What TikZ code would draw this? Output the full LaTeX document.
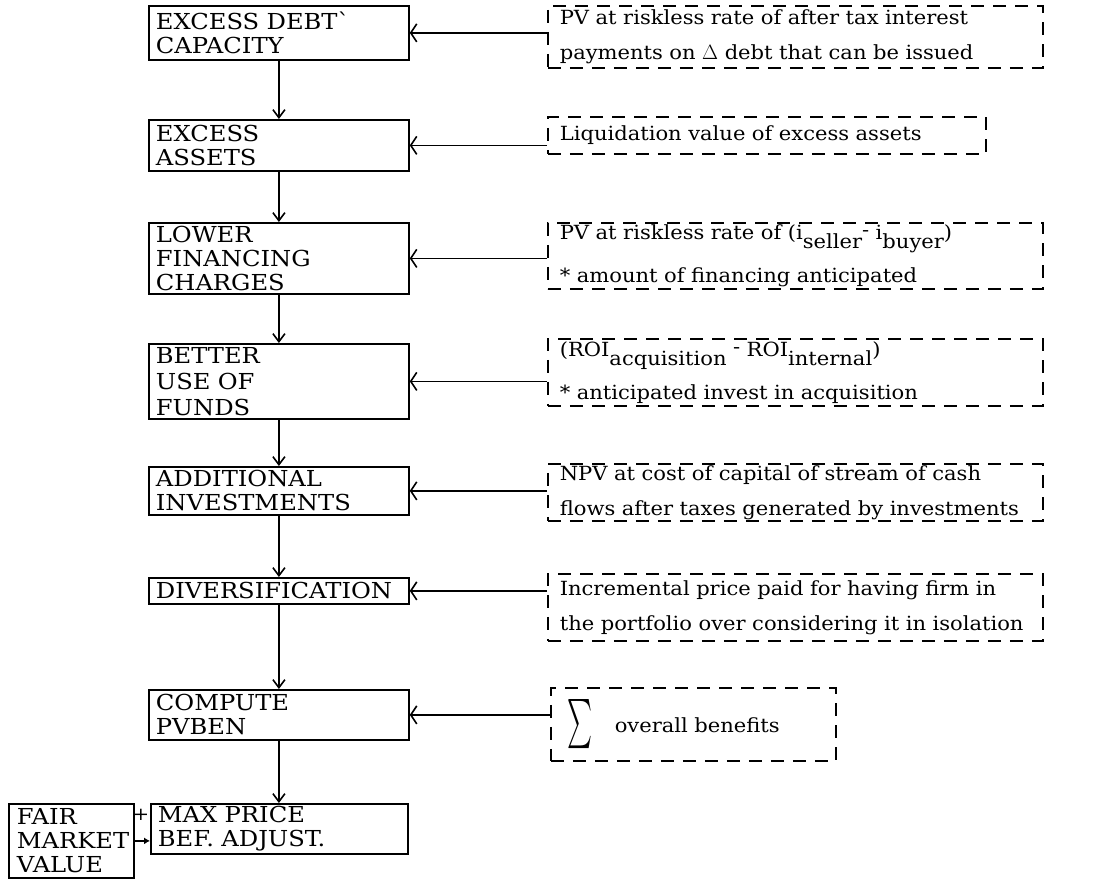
\documentclass[tikz,border=0pt]{standalone}
\usepackage{fontspec}
\setmainfont{DejaVu Serif}[FakeStretch=1.1]
\newfontfamily\rtfam{DejaVu Serif}[FakeStretch=1.08]
\usetikzlibrary{arrows.meta}
\newcommand\lblfont{\fontsize{22}{24}\selectfont}
\newcommand\rtfont{\rtfam\fontsize{19.5}{35}\selectfont}
\newcommand\lowr[1]{\raisebox{-9pt}{#1}}
\newcommand\himinus{\raisebox{3pt}{-}}
\begin{document}
\begin{tikzpicture}[x=1pt,y=-1pt,
  lbox/.style={draw, line width=1.8pt, anchor=north west, inner xsep=7pt, inner ysep=0pt, align=left, font=\lblfont},
  dbox/.style={draw, line width=1.6pt, dash pattern=on 13pt off 9pt, anchor=north west, inner xsep=12pt, inner ysep=0pt, align=left, font=\rtfont},
  varr/.style={line width=1.6pt, -{Straight Barb[length=8pt,width=12pt,line width=1.6pt]}},
  harr/.style={line width=1.8pt, -{Straight Barb[length=6pt,width=18pt,line width=1.6pt]}},
  sarr/.style={line width=1.5pt, -{Latex[length=6pt,width=7pt]}}]
\useasboundingbox (0,0) rectangle (1117,879);
% left column
\node[lbox, minimum width=260pt, minimum height=54pt, text width=246pt] (edc) at (148,5) {EXCESS DEBT\textasciigrave\\CAPACITY};
\node[lbox, minimum width=260pt, minimum height=51pt, text width=246pt] (ea) at (148,119) {EXCESS\\ASSETS};
\node[lbox, minimum width=260pt, minimum height=71pt, text width=246pt] (lfc) at (148,222) {LOWER\\FINANCING\\CHARGES};
\node[lbox, minimum width=260pt, minimum height=75pt, text width=246pt, font=\fontsize{22}{26}\selectfont] (buf) at (148,343) {BETTER\\USE OF\\FUNDS};
\node[lbox, minimum width=260pt, minimum height=48pt, text width=246pt] (ai) at (148,466) {ADDITIONAL\\INVESTMENTS};
\node[lbox, minimum width=260pt, minimum height=26pt, text width=246pt] (div) at (148,577) {DIVERSIFICATION};
\node[lbox, minimum width=260pt, minimum height=50pt, text width=246pt] (cp) at (148,689) {COMPUTE\\PVBEN};
\node[lbox, minimum width=257pt, minimum height=50pt, text width=243pt, inner xsep=7pt] (mp) at (150,803) {MAX PRICE\\BEF. ADJUST.};
\node[lbox, minimum width=125pt, minimum height=74pt, text width=109pt, inner xsep=8pt] (fmv) at (8,803) {\mbox{FAIR}\\\mbox{MARKET}\\\mbox{VALUE}};
\node[font=\fontsize{18}{18}\selectfont, inner sep=0pt] (plus) at (141,815) {+};
% right column
\node[dbox, minimum width=495pt, minimum height=62pt, text width=471pt] (d1) at (547,5)
  {\mbox{PV at riskless rate of after tax interest}\\\mbox{payments on $\Delta$ debt that can be issued}};
\node[dbox, minimum width=438pt, minimum height=37pt, text width=414pt] (d2) at (547,116)
  {\mbox{Liquidation value of excess assets}};
\node[dbox, minimum width=495pt, minimum height=66pt, text width=471pt] (d3) at (547,222)
  {\mbox{PV at riskless rate of (i\lowr{seller}\himinus\ i\lowr{buyer})}\\[8pt]\mbox{* amount of financing anticipated}};
\node[dbox, minimum width=495pt, minimum height=67pt, text width=471pt] (d4) at (547,338)
  {\mbox{(ROI\lowr{acquisition} \himinus\ ROI\lowr{internal})}\\[8pt]\mbox{* anticipated invest in acquisition}};
\node[dbox, minimum width=495pt, minimum height=57pt, text width=471pt] (d5) at (547,463)
  {\mbox{NPV at cost of capital of stream of cash}\\\mbox{flows after taxes generated by investments}};
\node[dbox, minimum width=495pt, minimum height=67pt, text width=471pt] (d6) at (547,573)
  {\mbox{Incremental price paid for having firm in}\\\mbox{the portfolio over considering it in isolation}};
\node[dbox, minimum width=285pt, minimum height=73pt, text width=251pt, inner xsep=17pt] (d7) at (550,687)
  {\raisebox{-17pt}{\resizebox*{25pt}{50pt}{$\sum$}}\hspace{22pt}overall benefits};
% vertical flow
\draw[varr] (edc.south) -- (ea.north);
\draw[varr] (ea.south) -- (lfc.north);
\draw[varr] (lfc.south) -- (buf.north);
\draw[varr] (buf.south) -- (ai.north);
\draw[varr] (ai.south) -- (div.north);
\draw[varr] (div.south) -- (cp.north);
\draw[varr] (cp.south) -- (cp.south |- mp.north);
% horizontal inputs
\draw[harr] (d1.west |- edc.east) -- (edc.east);
\draw[harr] (d2.west |- ea.east) -- (ea.east);
\draw[harr] (d3.west |- lfc.east) -- (lfc.east);
\draw[harr] (d4.west |- buf.east) -- (buf.east);
\draw[harr] (d5.west |- ai.east) -- (ai.east);
\draw[harr] (d6.west |- div.east) -- (div.east);
\draw[harr] (d7.west |- cp.east) -- (cp.east);
\draw[sarr] (fmv.east) -- (fmv.east -| mp.west);
\end{tikzpicture}
\end{document}
